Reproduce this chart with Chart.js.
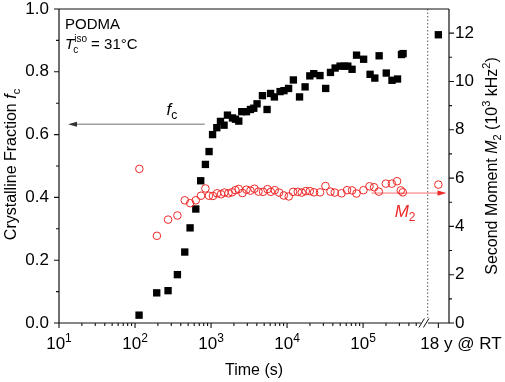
<!DOCTYPE html>
<html><head><meta charset="utf-8">
<script src="https://cdn.jsdelivr.net/npm/chart.js@4"></script>
<style>html,body{margin:0;padding:0;background:#fff}canvas{display:block}</style>
</head><body>
<canvas id="c" width="505" height="382"></canvas>
<script>
// ---- data ----
const fcTime = [113,193,272,361,451,530,630,731,843,942,1047,1191,1330,1483,1644,1914,2094,2317,2535,2924,3296,3648,4027,4742,5458,6067,6808,8091,9100,10470,12100,14590,17260,19910,22440,27100,32210,37240,42850,49770,56890,62950,71610,82030,101600,123600,142600,162600,201800,239900,283800,319900,335700];
const fcValues = [0.025,0.096,0.103,0.154,0.226,0.303,0.363,0.453,0.505,0.546,0.600,0.622,0.642,0.630,0.662,0.653,0.649,0.643,0.673,0.673,0.680,0.684,0.698,0.724,0.680,0.731,0.720,0.737,0.740,0.747,0.774,0.720,0.752,0.787,0.794,0.788,0.747,0.798,0.812,0.818,0.818,0.818,0.808,0.853,0.840,0.792,0.780,0.851,0.796,0.773,0.777,0.855,0.858];
const m2Time = [114,194,272,361,451,532,630,738,843,938,1059,1199,1355,1500,1694,1888,2094,2312,2588,2924,3296,3724,4207,4831,5521,6109,6887,7852,9057,10520,11990,13840,15600,17620,19910,22590,27160,31990,37240,42460,52000,61520,71610,81850,101200,121300,139600,161100,199100,238800,279900,313300,332700];
const m2Values = [6.38,3.61,4.28,4.45,5.08,4.96,5.08,5.27,5.57,5.27,5.26,5.37,5.33,5.40,5.37,5.41,5.50,5.55,5.38,5.52,5.48,5.56,5.44,5.43,5.54,5.43,5.50,5.40,5.28,5.24,5.43,5.43,5.40,5.46,5.46,5.41,5.41,5.67,5.44,5.40,5.37,5.50,5.49,5.36,5.50,5.66,5.62,5.44,5.77,5.77,5.87,5.49,5.41];
const rtFc = 0.918;            // 18 years at room temperature
const rtM2 = 5.73;
const rtLabel = '18 y @ RT';
const fcTicks = [0, 0.2, 0.4, 0.6, 0.8, 1.0];
const m2Ticks = [0, 2, 4, 6, 8, 10, 12];
const timeExponents = [1, 2, 3, 4, 5];

// ---- axis layout (log10 seconds on a linear axis, with a break) ----
const X_MIN = 1, X_MAX = 6.13;
const RT_POS = 5.99, DOT_POS = 5.85, BREAK_POS = 5.80, MINOR_MAX = 5.7;
const FF = "'Liberation Sans', Arial, Helvetica, sans-serif";
const RED = 'rgb(238,40,40)';
function fnt(s, it){ return (it ? 'italic ' : '') + s + 'px ' + FF; }
function richW(ctx, segs){ let w = 0; for (const g of segs){ ctx.font = fnt(g.s, g.i); w += ctx.measureText(g.t).width; } return w; }
function drawRich(ctx, x, y, segs, align){
  const w = richW(ctx, segs);
  let cx = align === 'center' ? x - w/2 : (align === 'right' ? x - w : x);
  ctx.textAlign = 'left'; ctx.textBaseline = 'alphabetic';
  for (const g of segs){ ctx.font = fnt(g.s, g.i); ctx.fillText(g.t, cx, y + (g.dy || 0)); cx += ctx.measureText(g.t).width; }
}
function arrow(ctx, x0, x1, yy, lineCol, headCol, lw){
  ctx.strokeStyle = lineCol; ctx.lineWidth = lw;
  const dir = Math.sign(x1 - x0);
  ctx.beginPath(); ctx.moveTo(x0, yy); ctx.lineTo(x1 - dir*8, yy); ctx.stroke();
  ctx.fillStyle = headCol;
  ctx.beginPath(); ctx.moveTo(x1, yy); ctx.lineTo(x1 - dir*9, yy - 2.6); ctx.lineTo(x1 - dir*9, yy + 2.6); ctx.closePath(); ctx.fill();
}

const decor = {
  id: 'decor',
  beforeDatasetsDraw(chart){
    const {ctx, scales: {x, y, y2}, chartArea: ca} = chart;
    ctx.save();
    // dotted separator
    const dx = x.getPixelForValue(DOT_POS);
    ctx.strokeStyle = '#555'; ctx.lineWidth = 1; ctx.setLineDash([1.5, 2]);
    ctx.beginPath(); ctx.moveTo(dx, ca.top); ctx.lineTo(dx, ca.bottom - 5); ctx.stroke();
    ctx.setLineDash([]);
    // fc arrow (points to left axis)
    arrow(ctx, x.getPixelForValue(2.917), x.getPixelForValue(1.118), y.getPixelForValue(0.633), '#a0a0a0', '#333', 1.3);
    // M2 arrow (points to right axis)
    arrow(ctx, x.getPixelForValue(5.11), x.getPixelForValue(6.097), y2.getPixelForValue(5.38), 'rgba(255,110,110,1)', RED, 1);
    ctx.restore();
  },
  afterDraw(chart){
    const {ctx, scales: {x, y, y2}, chartArea: ca} = chart;
    ctx.save();
    ctx.strokeStyle = '#111'; ctx.lineWidth = 1.2; ctx.lineCap = 'butt';
    const L = ca.left, R = ca.right, T = ca.top, B = ca.bottom;
    const bx = x.getPixelForValue(BREAK_POS);
    // frame
    ctx.beginPath();
    ctx.moveTo(L, T); ctx.lineTo(R, T);
    ctx.moveTo(L, T); ctx.lineTo(L, B + 0.6);
    ctx.moveTo(R, T); ctx.lineTo(R, B + 0.6);
    ctx.moveTo(L, B); ctx.lineTo(bx - 3, B);
    ctx.moveTo(bx + 4, B); ctx.lineTo(R, B);
    ctx.stroke();
    // break marks
    ctx.lineWidth = 1;
    ctx.beginPath();
    ctx.moveTo(bx - 5, B + 4.5); ctx.lineTo(bx + 0.5, B - 4.5);
    ctx.moveTo(bx - 0.5, B + 4.5); ctx.lineTo(bx + 5, B - 4.5);
    ctx.stroke();
    // ticks
    ctx.lineWidth = 1.1;
    ctx.beginPath();
    for (const e of timeExponents){ const px = x.getPixelForValue(e); ctx.moveTo(px, B); ctx.lineTo(px, B + 5); }
    for (let e = 1; e <= 5; e++) for (let k = 2; k <= 9; k++){
      const v = e + Math.log10(k); if (v > MINOR_MAX) continue;
      const px = x.getPixelForValue(v); ctx.moveTo(px, B); ctx.lineTo(px, B + 3);
    }
    const rx = x.getPixelForValue(RT_POS); ctx.moveTo(rx, B); ctx.lineTo(rx, B + 5);
    for (const v of fcTicks){ const py = y.getPixelForValue(v); ctx.moveTo(L, py); ctx.lineTo(L - 5, py); }
    for (let v = 0.1; v < 1; v += 0.2){ const py = y.getPixelForValue(v); ctx.moveTo(L, py); ctx.lineTo(L - 3, py); }
    for (const v of m2Ticks){ const py = y2.getPixelForValue(v); ctx.moveTo(R, py); ctx.lineTo(R + 5, py); }
    for (let v = 1; v < 13; v += 2){ const py = y2.getPixelForValue(v); ctx.moveTo(R, py); ctx.lineTo(R + 3, py); }
    ctx.stroke();
    // x tick labels
    ctx.fillStyle = '#000';
    for (const e of timeExponents){
      drawRich(ctx, x.getPixelForValue(e), 349, [{t: '10', s: 17}, {t: String(e), s: 12, dy: -7}], 'center');
    }
    drawRich(ctx, rx - 18, 349, [{t: rtLabel, s: 17}], 'left');
    // axis titles
    drawRich(ctx, (L + R)/2, 375, [{t: 'Time (s)', s: 16}], 'center');
    ctx.save(); ctx.translate(15.5, 164.5); ctx.rotate(-Math.PI/2);
    drawRich(ctx, 0, 0, [{t: 'Crystalline Fraction ', s: 16}, {t: 'f', s: 16, i: true}, {t: 'c', s: 11, dy: 4}], 'center');
    ctx.restore();
    ctx.save(); ctx.translate(496.5, 166); ctx.rotate(-Math.PI/2);
    drawRich(ctx, 0, 0, [{t: 'Second Moment ', s: 16}, {t: 'M', s: 16, i: true}, {t: '2', s: 11, dy: 4}, {t: ' (10', s: 16}, {t: '3', s: 11, dy: -7}, {t: ' kHz', s: 16}, {t: '2', s: 11, dy: -7}, {t: ')', s: 16}], 'center');
    ctx.restore();
    // annotations
    drawRich(ctx, L + 6, T + 19.5, [{t: 'PODMA', s: 15}], 'left');
    ctx.font = fnt(15, true); const tw = ctx.measureText('T').width;
    const ax = L + 6, ay = T + 39.5;
    drawRich(ctx, ax, ay, [{t: 'T', s: 15, i: true}], 'left');
    drawRich(ctx, ax + tw - 1, ay + 4.5, [{t: 'c', s: 10}], 'left');
    drawRich(ctx, ax + tw, ay - 6.5, [{t: 'iso', s: 10}], 'left');
    ctx.font = fnt(10); const iw = ctx.measureText('iso').width;
    drawRich(ctx, ax + tw + iw, ay, [{t: ' = 31°C', s: 15}], 'left');
    // fc label
    drawRich(ctx, x.getPixelForValue(2.413), y.getPixelForValue(0.661), [{t: 'f', s: 17, i: true}, {t: 'c', s: 12, dy: 4}], 'left');
    // M2 label
    ctx.fillStyle = RED;
    drawRich(ctx, x.getPixelForValue(5.415), y2.getPixelForValue(4.39), [{t: 'M', s: 17, i: true}, {t: '2', s: 12, dy: 4.5}], 'left');
    ctx.restore();
  }
};

const fcPoints = fcTime.map((t, i) => ({x: Math.log10(t), y: fcValues[i]}));
fcPoints.push({x: RT_POS, y: rtFc});
const m2Points = m2Time.map((t, i) => ({x: Math.log10(t), y: m2Values[i]}));
m2Points.push({x: RT_POS, y: rtM2});

new Chart(document.getElementById('c'), {
  type: 'scatter',
  data: {
    datasets: [
      {label: 'M2', data: m2Points, yAxisID: 'y2', pointStyle: 'circle', pointRadius: 3.8, pointHoverRadius: 3.8,
       borderColor: RED, backgroundColor: 'rgba(0,0,0,0)', borderWidth: 1},
      {label: 'fc', data: fcPoints, yAxisID: 'y', pointStyle: 'rect', pointRadius: 5.2, pointHoverRadius: 5.2,
       borderColor: '#000', backgroundColor: '#000', borderWidth: 0}
    ]
  },
  options: {
    responsive: false, animation: false, devicePixelRatio: 1,
    layout: {padding: {top: 9, left: 0, right: 0, bottom: 0}},
    plugins: {legend: {display: false}, tooltip: {enabled: false}},
    events: [],
    scales: {
      x: {type: 'linear', min: X_MIN, max: X_MAX,
          grid: {display: false, drawTicks: false}, border: {display: false}, ticks: {display: false},
          afterFit(s){ s.height = 59; s.paddingLeft = 0; s.paddingRight = 0; }},
      y: {type: 'linear', position: 'left', min: 0, max: 1,
          afterBuildTicks(s){ s.ticks = fcTicks.map(v => ({value: v})); },
          grid: {display: false, drawTicks: false}, border: {display: false},
          ticks: {callback: v => v.toFixed(1), color: '#000', padding: 10, font: {family: FF, size: 17}},
          afterFit(s){ s.width = 59; s.paddingTop = 0; s.paddingBottom = 0; }},
      y2: {type: 'linear', position: 'right', min: 0, max: 13,
          afterBuildTicks(s){ s.ticks = m2Ticks.map(v => ({value: v})); },
          grid: {display: false, drawTicks: false}, border: {display: false},
          ticks: {callback: v => String(v), color: '#000', padding: 6, font: {family: FF, size: 17}},
          afterFit(s){ s.width = 56; s.paddingTop = 0; s.paddingBottom = 0; }}
    }
  },
  plugins: [decor]
});
</script>
</body></html>
